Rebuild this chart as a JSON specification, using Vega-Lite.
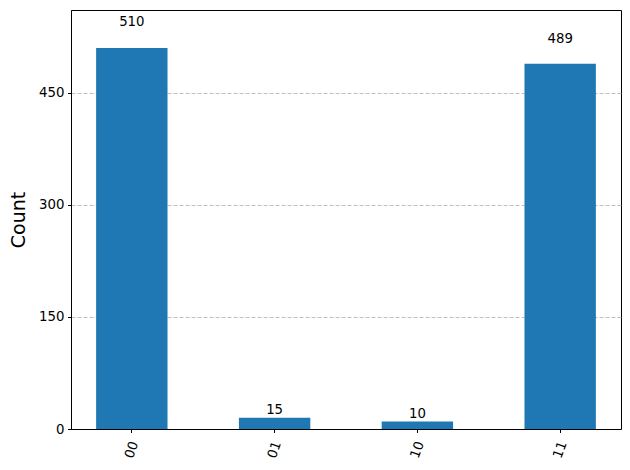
{
  "$schema": "https://vega.github.io/schema/vega-lite/v6.json",
  "autosize": "none",
  "width": 550,
  "height": 419,
  "padding": {"left": 71, "top": 10, "right": 9, "bottom": 41},
  "background": "white",
  "config": {
    "font": "DejaVu Sans",
    "view": {"stroke": "black", "strokeWidth": 1}
  },
  "data": {
    "values": [
      {"state": "00", "count": 510},
      {"state": "01", "count": 15},
      {"state": "10", "count": 10},
      {"state": "11", "count": 489}
    ]
  },
  "encoding": {
    "x": {
      "field": "state",
      "type": "nominal",
      "sort": null,
      "scale": {"paddingInner": 0.5, "paddingOuter": 0.176},
      "axis": {
        "title": null,
        "labelAngle": -70,
        "labelAlign": "center",
        "labelBaseline": "middle",
        "labelPadding": 17,
        "labelFont": "DejaVu Sans",
        "labelFontSize": 13.3,
        "labelColor": "black",
        "tickColor": "black",
        "tickSize": 3.5,
        "domainColor": "black",
        "grid": false
      }
    }
  },
  "layer": [
    {
      "mark": {"type": "bar", "color": "#1f77b4"},
      "encoding": {
        "y": {
          "field": "count",
          "type": "quantitative",
          "scale": {"domain": [0, 561], "nice": false},
          "axis": {
            "title": "Count",
            "titleFont": "DejaVu Sans",
            "titleFontSize": 19,
            "titleFontWeight": "normal",
            "titleColor": "black",
            "titlePadding": 10,
            "values": [0, 150, 300, 450],
            "labelFont": "DejaVu Sans",
            "labelFontSize": 13.3,
            "labelColor": "black",
            "labelPadding": 3.5,
            "tickColor": "black",
            "tickSize": 3.5,
            "domainColor": "black",
            "grid": true,
            "gridColor": "#b0b0b0",
            "gridDash": [4, 2],
            "gridWidth": 0.8
          }
        }
      }
    },
    {
      "mark": {"type": "text", "baseline": "bottom", "align": "center", "fontSize": 13.3, "color": "black", "font": "DejaVu Sans"},
      "encoding": {
        "y": {
          "field": "count",
          "type": "quantitative",
          "scale": {"domain": [0, 534.2857], "nice": false},
          "axis": null
        },
        "text": {"field": "count", "type": "quantitative"}
      }
    }
  ],
  "resolve": {"scale": {"y": "independent"}}
}
